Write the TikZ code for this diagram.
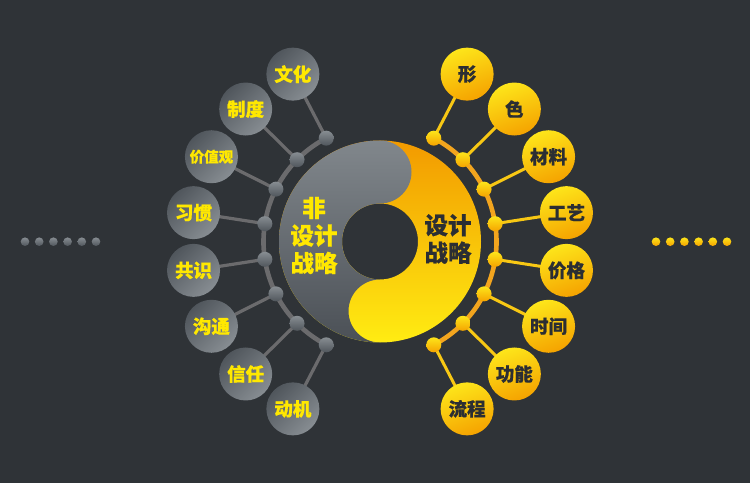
\documentclass[tikz,border=0pt]{standalone}
\usepackage{fontspec}
\newfontfamily\cjk[BoldFeatures={FakeBold=0.5}]{Noto Sans CJK SC}
\newcommand\smallcjk{\fontsize{14.5}{14.5}\selectfont}
\definecolor{bgc}{HTML}{2F3337}
\definecolor{gdark}{HTML}{50565C}
\definecolor{glight}{HTML}{878D92}
\definecolor{gline}{HTML}{6B6B6D}
\definecolor{yel}{HTML}{FDE51A}
\definecolor{ora}{HTML}{F5A300}
\definecolor{oline}{HTML}{F3A51E}
\definecolor{yline}{HTML}{F8C814}
\definecolor{ytext}{HTML}{FFE800}
\definecolor{dtext}{HTML}{2B2E33}
\definecolor{ringyt}{HTML}{F29A00}
\definecolor{ringyb}{HTML}{FFEC12}
\definecolor{ringgt}{HTML}{81878C}
\definecolor{ringgb}{HTML}{4B5056}
\pgfdeclarelayer{back}
\pgfdeclarelayer{lines}
\pgfsetlayers{back,lines,main}
\tikzset{
  gball/.style={circle, minimum size=53pt, inner sep=0pt, top color=gdark, bottom color=glight, shading angle=45, text=ytext, font=\cjk\bfseries\fontsize{18.5}{18.5}\selectfont},
  yball/.style={circle, minimum size=53pt, inner sep=0pt, top color=yel, bottom color=ora, shading angle=20, text=dtext, font=\cjk\bfseries\fontsize{18.5}{18.5}\selectfont},
  gdot/.style={circle, minimum size=15pt, inner sep=0pt, top color=glight, bottom color=gdark},
  ydot/.style={circle, minimum size=15pt, inner sep=0pt, top color=yel, bottom color=ora},
  gpip/.style={circle, minimum size=8.6pt, inner sep=0pt, top color=glight, bottom color=gdark},
  ypip/.style={circle, minimum size=8.6pt, inner sep=0pt, top color=yel, bottom color=ora},
  garc/.style={draw=gline, line width=4.6pt},
  gspoke/.style={draw=gline, line width=3.2pt},
  oarc/.style={draw=oline, line width=4.6pt},
  yspoke/.style={draw=yline, line width=3pt},
  centertext/.style={align=center, font=\cjk\bfseries\fontsize{23.5}{27.5}\selectfont}
}
\begin{document}
\begin{tikzpicture}[x=1pt,y=1pt]
\begin{pgfonlayer}{back}
\fill[bgc] (0,0) rectangle (750,483);
\end{pgfonlayer}
\useasboundingbox (0,0) rectangle (750,483);
\coordinate (C) at (380,241.5);
% central ring: yellow annulus, then grey part over it
\shade[top color=ringyt, bottom color=ringyb, even odd rule]
  (C) circle[radius=101] (C) circle[radius=38];
\shade[top color=ringgt, bottom color=ringgb]
  (380,342.5) arc[start angle=90, end angle=270, radius=101]
  arc[start angle=270, end angle=90, radius=31.5]
  arc[start angle=270, end angle=90, radius=38]
  arc[start angle=-90, end angle=90, radius=31.5] -- cycle;
\node[centertext, text=ytext] (ns) at (314,247.5) {非\\设计\\战略};
\node[centertext, text=dtext] (ds) at (448,244) {设计\\战略};
% left side
\foreach \a/\t/\i in {117.5/文化/1, 135.4/制度/2, 153.3/{\smallcjk 价值观}/3, 171.2/习惯/4, 188.8/共识/5, 206.7/沟通/6, 224.6/信任/7, 242.5/动机/8}{
  \node[gdot] (dl\i) at ([shift={(\a:116.5)}]C) {};
  \node[gball] (bl\i) at ([shift={(\a:188.7)}]C) {\t};
  \begin{pgfonlayer}{lines}
    \draw[gspoke] (dl\i.center) -- (bl\i.center);
  \end{pgfonlayer}
}
% right side
\foreach \a/\t/\i in {62.5/形/1, 44.6/色/2, 26.7/材料/3, 8.8/工艺/4, -8.8/价格/5, -26.7/时间/6, -44.6/功能/7, -62.5/流程/8}{
  \node[ydot] (dr\i) at ([shift={(\a:116.5)}]C) {};
  \node[yball] (br\i) at ([shift={(\a:188.7)}]C) {\t};
  \begin{pgfonlayer}{lines}
    \draw[yspoke] (dr\i.center) -- (br\i.center);
  \end{pgfonlayer}
}
\begin{pgfonlayer}{lines}
  \draw[garc] (dl1.center) arc[start angle=117.5, end angle=242.5, radius=116.5];
  \draw[oarc] (dr1.center) arc[start angle=62.5, end angle=-62.5, radius=116.5];
\end{pgfonlayer}
% dot rows
\foreach \x/\i in {25/1, 39.2/2, 53.4/3, 67.6/4, 81.8/5, 96/6}{
  \node[gpip] (pl\i) at (\x,241.3) {};
}
\foreach \x/\i in {656/1, 670.2/2, 684.4/3, 698.6/4, 712.8/5, 727/6}{
  \node[ypip] (pr\i) at (\x,241.3) {};
}
\end{tikzpicture}
\end{document}
